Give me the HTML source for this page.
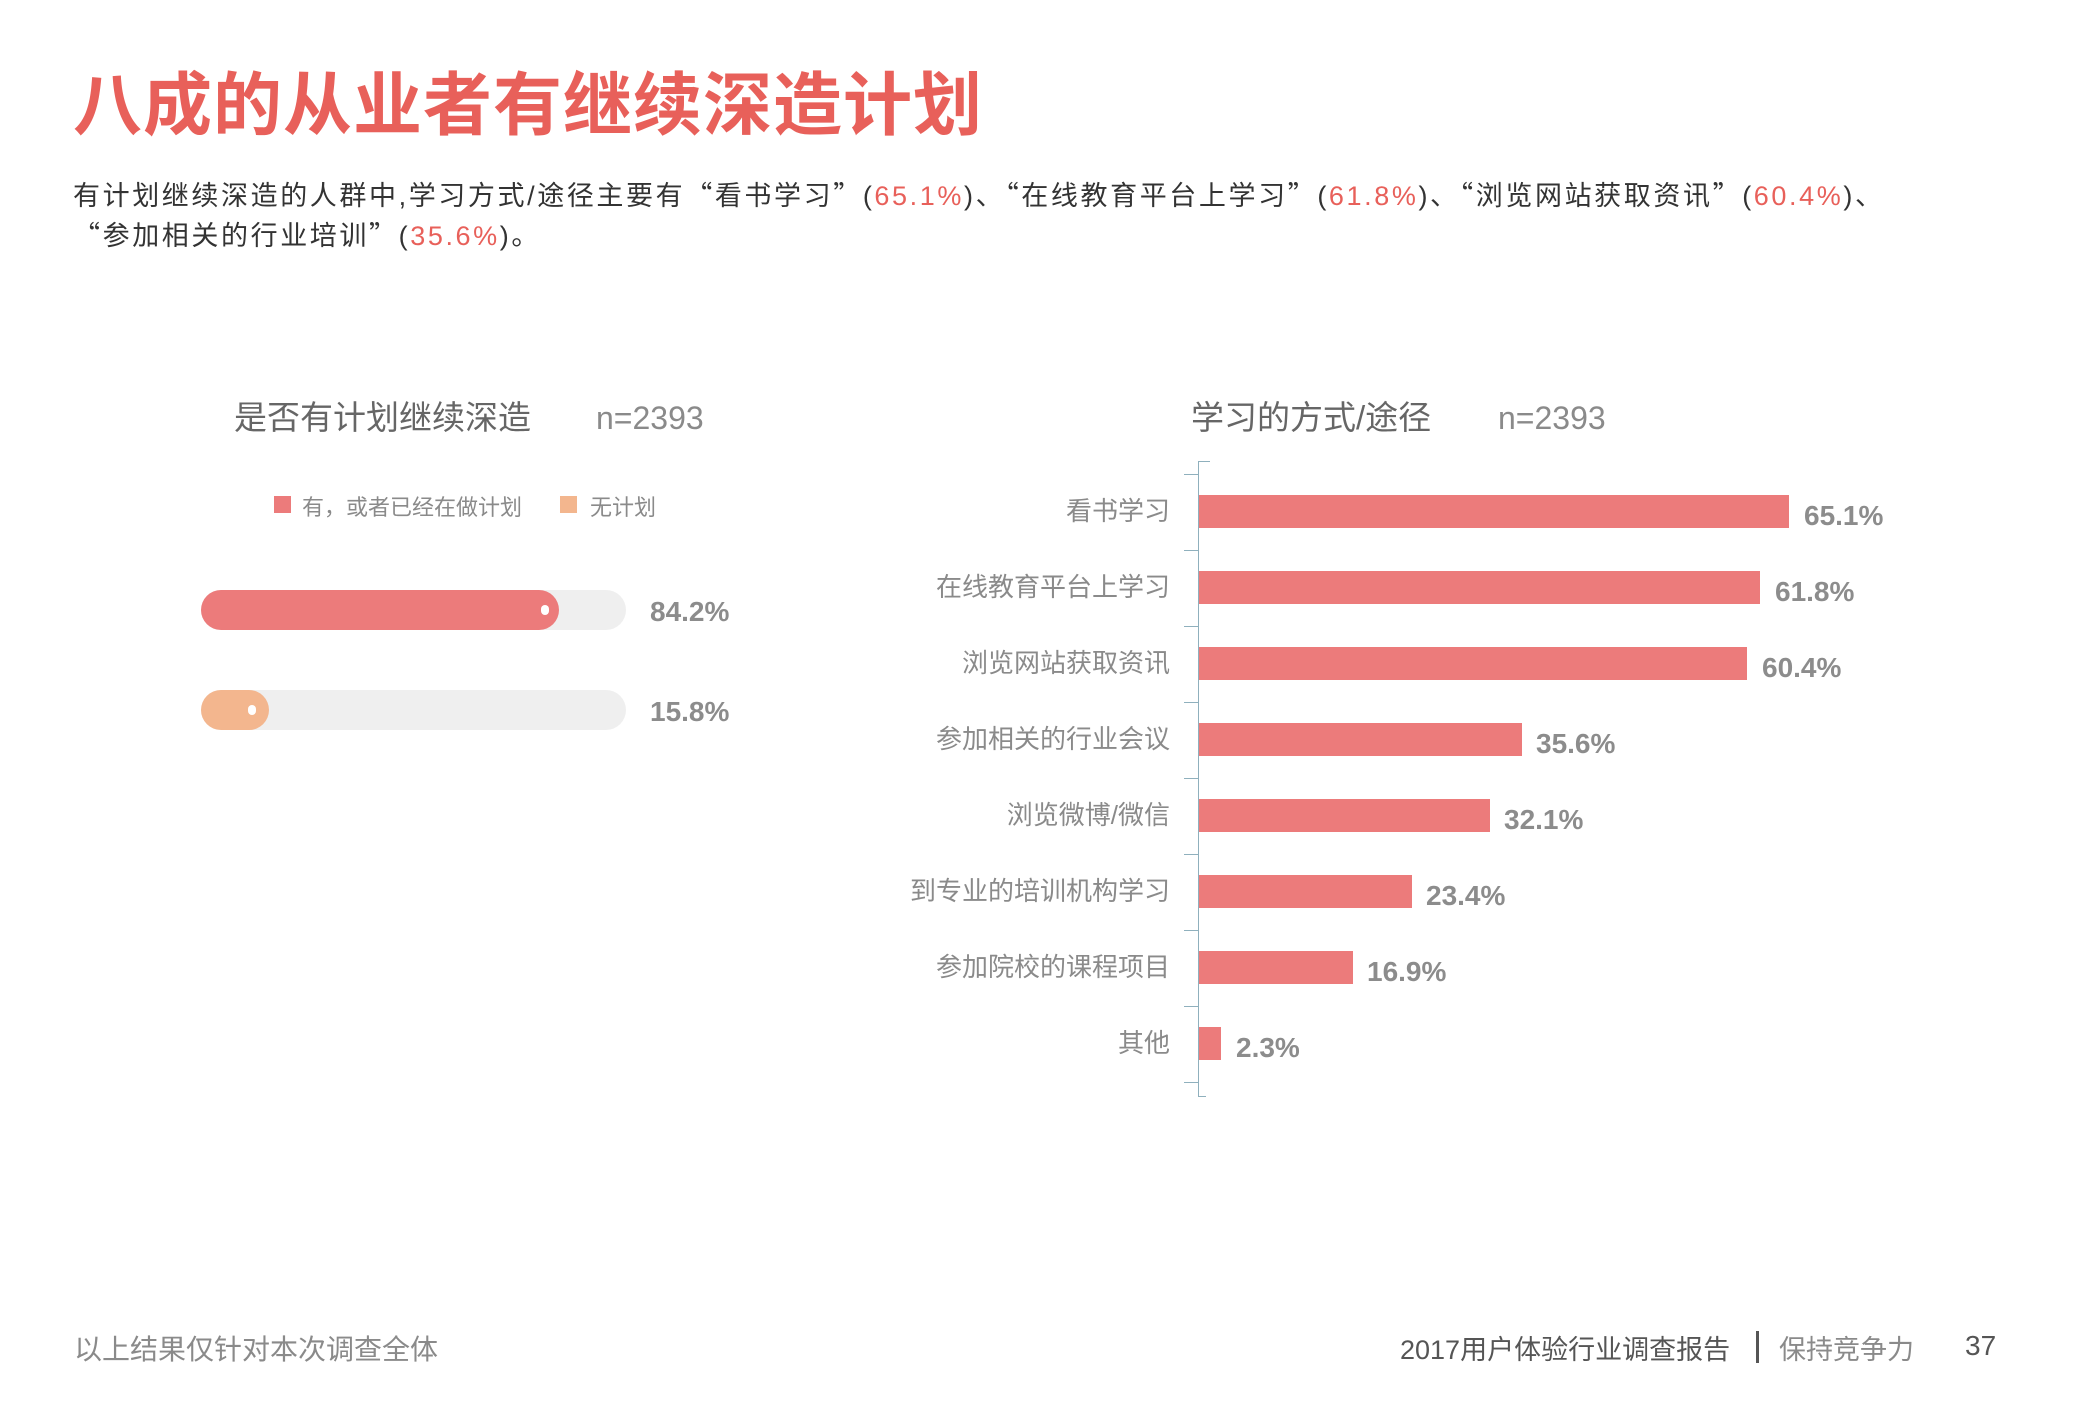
<!DOCTYPE html>
<html><head><meta charset="utf-8"><style>
*{margin:0;padding:0;box-sizing:border-box}
body{width:2087px;height:1418px;background:#fff;position:relative;overflow:hidden;font-family:"Liberation Sans","Noto Sans CJK SC",sans-serif}
.a{position:absolute;white-space:nowrap}
.r{color:#e8605a}
.q{font-family:"Noto Sans CJK SC",sans-serif}
.p{font-size:27px;color:#333;line-height:40px;height:40px;letter-spacing:2.6px;overflow:visible}
.lbl{position:absolute;right:917px;font-size:26px;color:#8a8a8a;line-height:33px;text-align:right}
.bar{position:absolute;left:1199px;height:33px;background:#ec7b7b}
.val{position:absolute;font-size:28px;color:#8c8c8c;line-height:33px;font-weight:bold;top:4px}
.tick{position:absolute;left:1184px;width:14px;height:1px;background:#8fb0bd}
</style></head><body>
<div class="a" style="left:73px;top:49px;font-size:69px;font-weight:bold;color:#e8605a;letter-spacing:1px">八成的从业者有继续深造计划</div>
<div class="a p" style="left:73px;top:174px">有计划继续深造的人群中,学习方式/途径主要有<span class="q">“</span>看书学习<span class="q">”</span>(<span class="r">65.1%</span>)、<span class="q">“</span>在线教育平台上学习<span class="q">”</span>(<span class="r">61.8%</span>)、<span class="q">“</span>浏览网站获取资讯<span class="q">”</span>(<span class="r">60.4%</span>)、</div>
<div class="a p" style="left:73px;top:214px"><span class="q">“</span>参加相关的行业培训<span class="q">”</span>(<span class="r">35.6%</span>)。</div>

<div class="a" style="left:234px;top:391px;font-size:33px;color:#666">是否有计划继续深造</div>
<div class="a" style="left:596px;top:400px;font-size:32px;color:#8a8a8a">n=2393</div>
<div class="a" style="left:274px;top:496px;width:17px;height:17px;background:#ec7b7b"></div>
<div class="a" style="left:302px;top:490px;font-size:22px;color:#8a8a8a">有，或者已经在做计划</div>
<div class="a" style="left:560px;top:496px;width:17px;height:17px;background:#f3b68e"></div>
<div class="a" style="left:590px;top:490px;font-size:22px;color:#8a8a8a">无计划</div>

<div class="a" style="left:201px;top:590px;width:425px;height:40px;border-radius:20px;background:#efefef"></div>
<div class="a" style="left:201px;top:590px;width:358px;height:40px;border-radius:20px;background:#ec7b7b"></div>
<div class="a" style="left:541px;top:605px;width:8px;height:10px;border-radius:4px;background:#fff"></div>
<div class="a" style="left:650px;top:596px;font-size:28px;color:#8c8c8c;font-weight:bold">84.2%</div>

<div class="a" style="left:201px;top:690px;width:425px;height:40px;border-radius:20px;background:#efefef"></div>
<div class="a" style="left:201px;top:690px;width:68px;height:40px;border-radius:20px;background:#f3b68e"></div>
<div class="a" style="left:248px;top:705px;width:8px;height:10px;border-radius:4px;background:#fff"></div>
<div class="a" style="left:650px;top:696px;font-size:28px;color:#8c8c8c;font-weight:bold">15.8%</div>

<div class="a" style="left:1191px;top:391px;font-size:33px;color:#666">学习的方式/途径</div>
<div class="a" style="left:1498px;top:400px;font-size:32px;color:#8a8a8a">n=2393</div>

<div class="a" style="left:1198px;top:461px;width:1px;height:636px;background:#8fb0bd"></div>
<div class="a" style="left:1198px;top:461px;width:12px;height:1px;background:#8fb0bd"></div>
<div class="a" style="left:1198px;top:1096px;width:8px;height:1px;background:#8fb0bd"></div>
<div class="tick" style="top:474px"></div><div class="tick" style="top:550px"></div><div class="tick" style="top:626px"></div><div class="tick" style="top:702px"></div><div class="tick" style="top:778px"></div><div class="tick" style="top:854px"></div><div class="tick" style="top:930px"></div><div class="tick" style="top:1006px"></div><div class="tick" style="top:1082px"></div>

<div class="lbl" style="top:495px">看书学习</div>
<div class="bar" style="top:495px;width:590px"></div><div class="val" style="left:1804px;top:499px">65.1%</div>
<div class="lbl" style="top:571px">在线教育平台上学习</div>
<div class="bar" style="top:571px;width:561px"></div><div class="val" style="left:1775px;top:575px">61.8%</div>
<div class="lbl" style="top:647px">浏览网站获取资讯</div>
<div class="bar" style="top:647px;width:548px"></div><div class="val" style="left:1762px;top:651px">60.4%</div>
<div class="lbl" style="top:723px">参加相关的行业会议</div>
<div class="bar" style="top:723px;width:323px"></div><div class="val" style="left:1536px;top:727px">35.6%</div>
<div class="lbl" style="top:799px">浏览微博/微信</div>
<div class="bar" style="top:799px;width:291px"></div><div class="val" style="left:1504px;top:803px">32.1%</div>
<div class="lbl" style="top:875px">到专业的培训机构学习</div>
<div class="bar" style="top:875px;width:213px"></div><div class="val" style="left:1426px;top:879px">23.4%</div>
<div class="lbl" style="top:951px">参加院校的课程项目</div>
<div class="bar" style="top:951px;width:154px"></div><div class="val" style="left:1367px;top:955px">16.9%</div>
<div class="lbl" style="top:1027px">其他</div>
<div class="bar" style="top:1027px;width:22px"></div><div class="val" style="left:1236px;top:1031px">2.3%</div>

<div class="a" style="left:74px;top:1328px;font-size:28px;color:#8a8a8a">以上结果仅针对本次调查全体</div>
<div class="a" style="left:1400px;top:1328px;font-size:27px;color:#555">2017用户体验行业调查报告</div>
<div class="a" style="left:1756px;top:1331px;width:3px;height:32px;background:#555"></div>
<div class="a" style="left:1779px;top:1328px;font-size:27px;color:#8a8a8a">保持竞争力</div>
<div class="a" style="left:1965px;top:1330px;font-size:28px;color:#555">37</div>
</body></html>
